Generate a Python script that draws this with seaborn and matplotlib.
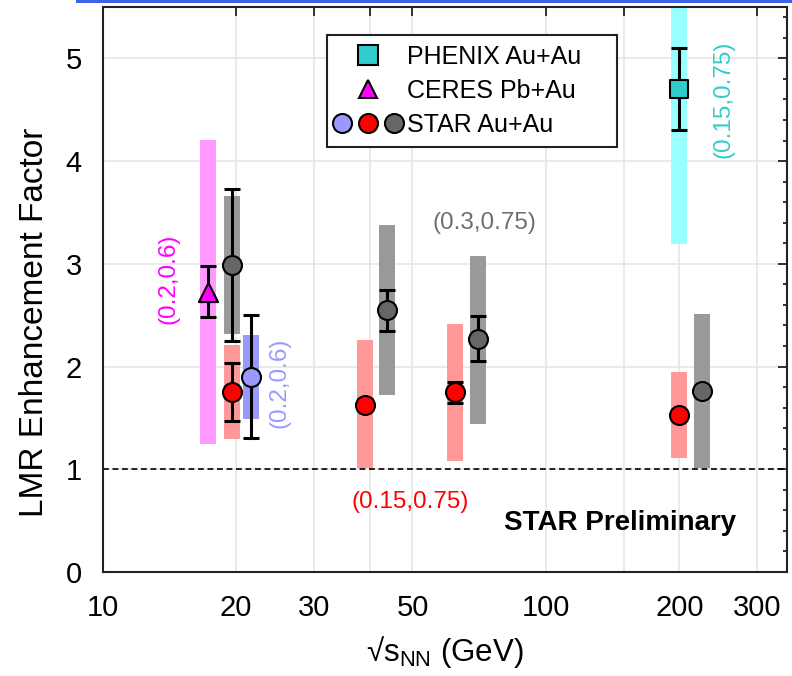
import numpy as np
import pandas as pd
import matplotlib
matplotlib.use("Agg")
import matplotlib.pyplot as plt
import seaborn as sns
from matplotlib.lines import Line2D
from matplotlib.legend_handler import HandlerTuple
from matplotlib.ticker import MultipleLocator, NullLocator
from matplotlib.patches import Rectangle

# ---------------- data ----------------
# STAR Au+Au, mass window (0.15,0.75) -- red
star_red_x = [19.6, 39.0, 62.4, 200.0]
star_red_y = [1.75, 1.63, 1.75, 1.53]
star_red_err = [0.28, 0.05, 0.10, 0.05]
star_red_sys_lo = [1.29, 1.01, 1.08, 1.11]
star_red_sys_hi = [2.21, 2.26, 2.41, 1.95]

# STAR Au+Au, mass window (0.3,0.75) -- gray (plotted slightly shifted)
star_gray_x = [19.6, 43.8, 70.1, 224.8]
star_gray_y = [2.99, 2.55, 2.27, 1.76]
star_gray_err = [0.74, 0.20, 0.22, 0.05]
star_gray_sys_lo = [2.32, 1.72, 1.44, 1.01]
star_gray_sys_hi = [3.66, 3.38, 3.08, 2.51]

# STAR Au+Au, mass window (0.2,0.6) -- blue
star_blue_x = [21.6]
star_blue_y = [1.90]
star_blue_err = [0.60]
star_blue_sys_lo = [1.49]
star_blue_sys_hi = [2.31]

# CERES Pb+Au
ceres_x = [17.3]
ceres_y = [2.73]
ceres_err = [0.25]
ceres_sys_lo = [1.25]
ceres_sys_hi = [4.21]

# PHENIX Au+Au
phenix_x = [200.0]
phenix_y = [4.70]
phenix_err = [0.40]
phenix_sys_lo = [3.19]
phenix_sys_hi = [6.20]

x_ticks = [10, 20, 30, 40, 50, 100, 150, 200, 300]
x_tick_labels = ["10", "20", "30", "", "50", "100", "", "200", "300"]
y_ticks = [0, 1, 2, 3, 4, 5]

# ---------------- style ----------------
sns.set_theme(style="white")
plt.rcParams["font.family"] = ["Liberation Sans", "DejaVu Sans"]
plt.rcParams["mathtext.fontset"] = "custom"
plt.rcParams["mathtext.rm"] = "Liberation Sans"
plt.rcParams["mathtext.it"] = "Liberation Sans"
plt.rcParams["text.color"] = "black"
plt.rcParams["axes.labelcolor"] = "black"
plt.rcParams["xtick.color"] = "black"
plt.rcParams["ytick.color"] = "black"

fig = plt.figure(figsize=(7.92, 6.76), dpi=100)
ax = fig.add_axes([102.7 / 792, 1 - 572 / 676, (787 - 102.7) / 792, (572 - 7) / 676])
ax.set_xscale("log")
ax.set_xlim(10, 350)
ax.set_ylim(0, 5.5)

series = [
    # name, x, y, err, lo, hi, band colour, marker colour, marker, size
    ("CERES", ceres_x, ceres_y, ceres_err, ceres_sys_lo, ceres_sys_hi, "#ff99ff", "#ff00ff", "^", 190),
    ("PHENIX", phenix_x, phenix_y, phenix_err, phenix_sys_lo, phenix_sys_hi, "#99ffff", "#33cccc", "s", 187),
    ("STAR gray", star_gray_x, star_gray_y, star_gray_err, star_gray_sys_lo, star_gray_sys_hi, "#999999", "#666666", "o", 187),
    ("STAR red", star_red_x, star_red_y, star_red_err, star_red_sys_lo, star_red_sys_hi, "#ff9999", "#ff0000", "o", 187),
    ("STAR blue", star_blue_x, star_blue_y, star_blue_err, star_blue_sys_lo, star_blue_sys_hi, "#9999ff", "#9999ff", "o", 187),
]

# systematic bands
for name, x, y, e, lo, hi, bc, mc, mk, s in series:
    ax.vlines(x, lo, hi, colors=bc, lw=11.5, zorder=1.5, capstyle="butt")

# statistical error bars
for name, x, y, e, lo, hi, bc, mc, mk, s in series:
    ax.errorbar(x, y, yerr=e, fmt="none", ecolor="black", elinewidth=2.2,
                capsize=6, capthick=2.2, zorder=3)

# markers via seaborn
for name, x, y, e, lo, hi, bc, mc, mk, s in series:
    df = pd.DataFrame({"x": x, "y": y})
    sns.scatterplot(data=df, x="x", y="y", ax=ax, marker=mk, s=s, color=mc,
                    edgecolor="black", linewidth=1.5, zorder=4, legend=False)

ax.axhline(1.0, color="black", lw=1.2, ls=(0, (3.5, 2.2)), zorder=2)

# axes / ticks
ax.set_xticks(x_ticks)
ax.set_xticklabels(x_tick_labels)
ax.xaxis.set_minor_locator(NullLocator())
ax.set_yticks(y_ticks)
ax.yaxis.set_minor_locator(MultipleLocator(0.2))
ax.tick_params(which="both", direction="in", top=True, right=True, width=1.3, color="#222222")
ax.tick_params(which="major", length=6.5, labelsize=21)
ax.tick_params(which="minor", length=3)
ax.tick_params(axis="y", which="major", pad=15)
ax.tick_params(axis="x", which="major", pad=16)
for sp in ax.spines.values():
    sp.set_linewidth(1.5)
    sp.set_color("#222222")
ax.grid(True, which="major", color="#e6e6e6", lw=1.2)
ax.set_axisbelow(True)

ax.set_ylabel("LMR Enhancement Factor", fontsize=24, va="center", ha="center")
ax.yaxis.set_label_coords(-0.100, 0.442)
ax.set_xlabel("√s$_\\mathregular{NN}$ (GeV)", fontsize=22.5, va="center", ha="center")
ax.xaxis.set_label_coords(0.5, -0.142)

# annotations
ax.text(14.1, 2.85, "(0.2,0.6)", color="#ff00ff", fontsize=17.5, rotation=90, ha="center", va="center")
ax.text(25.1, 1.84, "(0.2,0.6)", color="#9999ff", fontsize=17.5, rotation=90, ha="center", va="center")
ax.text(72.8, 3.40, "(0.3,0.75)", color="#6e6e6e", fontsize=17.5, ha="center", va="center")
ax.text(49.3, 0.685, "(0.15,0.75)", color="#ff0000", fontsize=17.5, ha="center", va="center")
ax.text(252, 4.60, "(0.15,0.75)", color="#33cccc", fontsize=17.5, rotation=90, ha="center", va="center")
ax.text(146.9, 0.48, "STAR Preliminary", color="black", fontsize=20, fontweight="bold", ha="center", va="center")

# legend
h_phenix = Line2D([], [], ls="none", marker="s", markersize=13.7, markerfacecolor="#33cccc",
                  markeredgecolor="black", markeredgewidth=1.5)
h_ceres = Line2D([], [], ls="none", marker="^", markersize=13.5, markerfacecolor="#ff00ff",
                 markeredgecolor="black", markeredgewidth=1.5)
h_s1 = Line2D([], [], ls="none", marker="o", markersize=13.7, markerfacecolor="#9999ff",
              markeredgecolor="black", markeredgewidth=1.5)
h_s2 = Line2D([], [], ls="none", marker="o", markersize=13.7, markerfacecolor="#ff0000",
              markeredgecolor="black", markeredgewidth=1.5)
h_s3 = Line2D([], [], ls="none", marker="o", markersize=13.7, markerfacecolor="#666666",
              markeredgecolor="black", markeredgewidth=1.5)
leg = ax.legend([h_phenix, h_ceres, (h_s1, h_s2, h_s3)],
                ["PHENIX Au+Au", "CERES Pb+Au", "STAR Au+Au"],
                handler_map={tuple: HandlerTuple(ndivide=None, pad=0.64)},
                loc="upper left", bbox_to_anchor=(0.3278, 0.754, 0.4238, 0.1964),
                mode="expand", borderaxespad=0, fontsize=18, frameon=True, fancybox=False,
                borderpad=0.38, handlelength=2.48, handletextpad=0.32,
                labelspacing=0.41, numpoints=1)
leg.get_frame().set_edgecolor("#222222")
leg.get_frame().set_linewidth(1.5)
leg.get_frame().set_alpha(1)
leg.set_zorder(10)

# slide frame line at the top
fig.add_artist(Rectangle((76 / 792, 1 - 3 / 676), 1, 3 / 676, transform=fig.transFigure,
                         color="#3b63e8", lw=0))

fig.savefig("out.png", dpi=100)
